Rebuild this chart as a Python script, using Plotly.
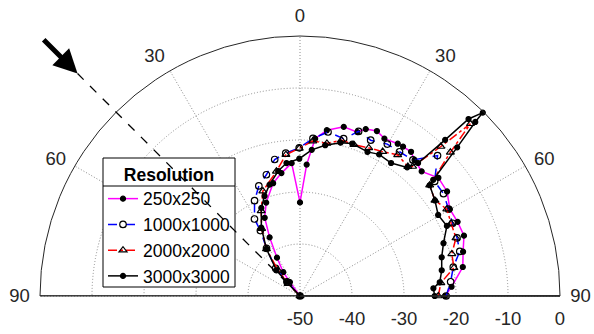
import math
import plotly.graph_objects as go

# ---------------- data (angle in degrees, 0 = normal; level in dB) ----------------
THETA_250 = [90, 86.5, 79.9, 74.8, 69.8, 64.8, 59.9, 54.6, 49.5, 44.3, 40.1, 37.6, 34.6, 32.7,
             28.2, 25.0, 21.5, 19.3, 14.5, 9.2, 5.5, 2.9, 0, -3.6, -8.6, -13.4, -19.9, -24.3,
             -27.4, -31.0, -35.1, -36.0, -40.0]
R_250 = [-22.1, -20.8, -18.2, -17.5, -16.4, -16.5, -16.7, -15.3, -15.0, -16.5, -15.8, -15.0, -15.1,
         -15.2, -15.65, -15.0, -15.5, -16.6, -16.4, -17.7, -19.6, -24.7, -32.0, -24.4, -26.1, -27.7,
         -30.9, -33.5, -37.3, -41.4, -44.4, -46.7, -50.0]

THETA_1000 = [90, 84.6, 79.3, 74.4, 69.7, 64.5, 59.7, 54.5, 49.6, 44.4, 39.7, 34.6, 29.9, 24.4,
              19.6, 15.5, 9.7, 4.7, -0.3, -5.7, -10.5, -15.5, -20.5, -25.5, -30.6, -31.2, -35.1,
              -41.3, -42.2, -45.0]
R_1000 = [-21.9, -20.9, -20.0, -18.1, -17.8, -17.5, -16.9, -16.1, -16.0, -12.2, -16.0, -16.3, -16.3,
          -17.1, -16.4, -18.6, -18.0, -19.6, -21.5, -22.4, -23.3, -25.8, -27.4, -29.7, -32.8, -35.3,
          -38.8, -42.9, -46.3, -50.0]

THETA_2000 = [90, 84.7, 79.6, 74.5, 69.6, 64.3, 59.4, 54.7, 49.5, 46.3, 44.7, 43.3, 41.0, 39.8,
              34.7, 29.8, 24.9, 19.6, 14.9, 10.0, 4.7, -0.3, -5.7, -10.7, -19.5, -24.5, -29.7,
              -35.5, -40.5, -44.0, -45.0]
R_2000 = [-23.4, -22.8, -19.9, -19.7, -18.0, -17.75, -17.2, -18.2, -17.2, -10.0, -3.4, -10.5, -17.0,
          -17.6, -17.0, -18.0, -18.6, -19.1, -19.0, -20.2, -20.1, -21.6, -22.7, -25.6, -28.6, -32.0,
          -35.1, -38.9, -43.5, -46.7, -50.0]

THETA_3000 = [90, 86.7, 84.4, 79.7, 74.7, 69.8, 64.5, 59.6, 54.7, 49.5, 48.9, 46.6, 45.2, 44.9,
              43.6, 42.9, 41.6, 39.8, 34.4, 29.2, 25.1, 18.9, 14.8, 9.5, 4.6, -0.3, -5.8, -9.9,
              -15.3, -19.5, -23.7, -29.5, -35.5, -42.5, -43.6, -45.0]
R_3000 = [-24.1, -24.3, -23.0, -22.3, -21.75, -20.6, -18.7, -19.2, -18.2, -17.2, -16.0, -8.4, -2.5,
          -0.2, -3.0, -9.0, -15.8, -17.8, -19.0, -18.8, -19.4, -19.0, -19.5, -20.6, -21.8, -23.6,
          -24.3, -25.6, -27.8, -29.6, -31.5, -34.9, -38.9, -43.3, -46.2, -50.0]

SERIES_NAMES = ["250x250", "1000x1000", "2000x2000", "3000x3000"]
ANG_TICKS = [-90, -60, -30, 0, 30, 60, 90]
ANG_LABELS = ["90", "60", "30", "0", "30", "60", "90"]
R_TICKS = [-50, -40, -30, -20, -10, 0]
R_LABELS = ["-50", "-40", "-30", "-20", "-10", "0"]
R_RANGE = [-50, 0]
INCIDENT_ANGLE = -45

# ---------------- layout constants ----------------
W, H = 594, 334
CX, CY, RAD = 300, 296, 260
FONT = "Liberation Sans, Arial, Helvetica, sans-serif"
TXT = "#262626"
GRID = "#8c8c8c"
GRID_DASH = "1px,2px"
LEG_X0, LEG_X1, LEG_TOP, LEG_SEP, LEG_BOT = 103, 235, 158, 186, 287

fig = go.Figure()

# diameter (baseline) of the half-polar frame
fig.add_trace(go.Scatterpolar(theta=[ANG_TICKS[0], 0, ANG_TICKS[-1]],
                              r=[R_RANGE[1], R_RANGE[0], R_RANGE[1]],
                              mode="lines", line=dict(color="#262626", width=1.3),
                              showlegend=False, hoverinfo="skip", cliponaxis=False))

styles = [
    dict(color="#ff00ff", dash="solid", symbol="circle", msize=5),
    dict(color="#0000ff", dash="dash", symbol="circle-open", msize=6.5),
    dict(color="#ff0000", dash="dashdot", symbol="triangle-up-open", msize=7),
    dict(color="#000000", dash="solid", symbol="circle", msize=5),
]
data = [(THETA_250, R_250), (THETA_1000, R_1000), (THETA_2000, R_2000), (THETA_3000, R_3000)]
for name, (th, rr), st in zip(SERIES_NAMES, data, styles):
    fig.add_trace(go.Scatterpolar(
        theta=th, r=rr, name=name, mode="lines+markers",
        line=dict(color=st["color"], width=1.5, dash=st["dash"]),
        marker=dict(symbol=st["symbol"], size=st["msize"], color="black",
                    line=dict(color="black", width=1.2)),
        cliponaxis=False))

# legend box (white, framed) drawn as a shape so the incident line can cross it
fig.add_shape(type="rect", xref="paper", yref="paper", layer="above",
              x0=LEG_X0 / W, x1=LEG_X1 / W, y0=1 - LEG_BOT / H, y1=1 - LEG_TOP / H,
              fillcolor="white", line=dict(color="black", width=1))
fig.add_shape(type="line", xref="paper", yref="paper", layer="above",
              x0=LEG_X0 / W, x1=LEG_X1 / W, y0=1 - LEG_SEP / H, y1=1 - LEG_SEP / H,
              line=dict(color="black", width=1))

# incident direction: dashed line from centre outward, plus arrow
a = math.radians(INCIDENT_ANGLE)
ext = 1.21 * RAD
tipx, tipy = CX + ext * math.sin(a), CY - ext * math.cos(a)
fig.add_shape(type="line", xref="paper", yref="paper", layer="above",
              x0=CX / W, y0=1 - CY / H, x1=tipx / W, y1=1 - tipy / H,
              line=dict(color="black", width=1.3, dash="dash"))
arrow_len = 50
fig.add_annotation(xref="paper", yref="paper", x=tipx / W, y=1 - tipy / H,
                   ax=arrow_len * math.sin(a), ay=-arrow_len * math.cos(a),
                   showarrow=True, text="", arrowhead=2, arrowsize=0.95,
                   arrowwidth=5, arrowcolor="black", standoff=0)

fig.update_layout(
    width=W, height=H, margin=dict(l=0, r=0, t=0, b=0),
    paper_bgcolor="white", plot_bgcolor="white",
    font=dict(family=FONT, color=TXT),
    polar=dict(
        domain=dict(x=[(CX - RAD) / W, (CX + RAD) / W], y=[(H - CY) / H, (H - CY + RAD) / H]),
        sector=[0, 180], bgcolor="white",
        angularaxis=dict(rotation=90, direction="clockwise", tickmode="array",
                         tickvals=ANG_TICKS, ticktext=ANG_LABELS,
                         ticks="outside", ticklen=6, tickcolor="rgba(0,0,0,0)",
                         showgrid=True, gridcolor=GRID, griddash=GRID_DASH, gridwidth=1,
                         showline=True, linecolor="#262626", linewidth=1,
                         tickfont=dict(size=18.5, color=TXT, family=FONT)),
        radialaxis=dict(range=R_RANGE, tickmode="array", tickvals=R_TICKS, ticktext=R_LABELS,
                        angle=0, side="clockwise",
                        ticks="outside", ticklen=6, tickcolor="rgba(0,0,0,0)",
                        showline=True, linecolor="#262626", linewidth=1.3,
                        showgrid=True, gridcolor=GRID, griddash=GRID_DASH, gridwidth=1,
                        tickfont=dict(size=18.5, color=TXT, family=FONT)),
    ),
    legend=dict(x=LEG_X0 / W, y=1 - LEG_TOP / H, xanchor="left", yanchor="top",
                bgcolor="rgba(0,0,0,0)", borderwidth=0,
                font=dict(size=17.5, color="black", family=FONT),
                title=dict(text="<b>Resolution</b>", side="top center",
                           font=dict(size=17.5, color="black", family=FONT)),
                tracegroupgap=0),
    showlegend=True,
)

fig.write_html("out.html")
